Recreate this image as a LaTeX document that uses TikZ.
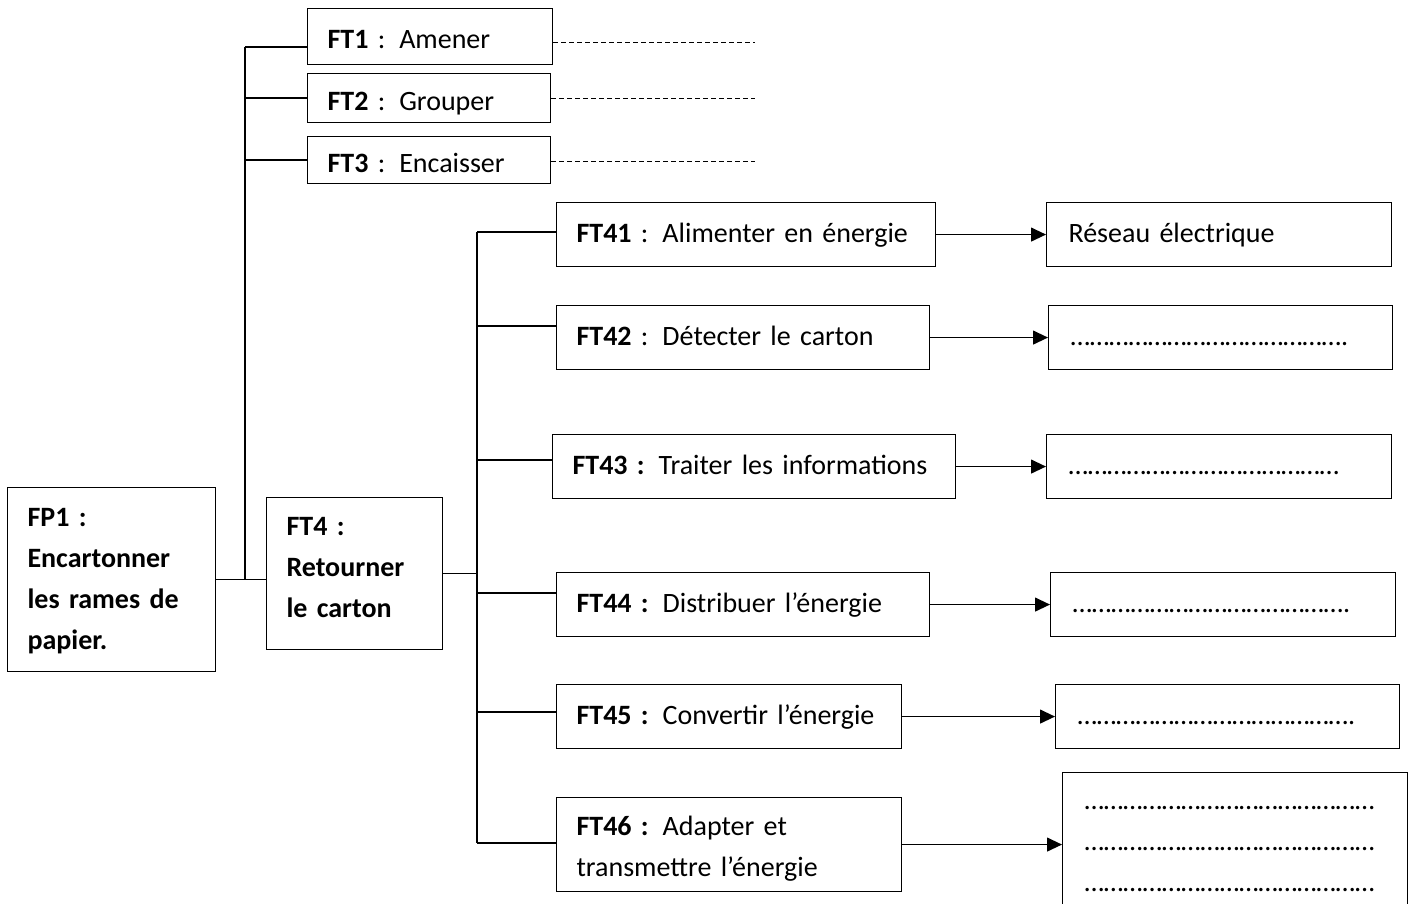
\documentclass[tikz,border=0pt]{standalone}
\usepackage{fontspec}
\setmainfont{Carlito}
\usetikzlibrary{arrows.meta,calc}
\begin{document}
\begin{tikzpicture}[x=1pt,y=-1pt,
  boxbase/.style={draw, line width=1.1pt, anchor=north west, inner xsep=20pt, inner ysep=0pt,
    align=left, font=\fontsize{28}{41}\selectfont},
  box/.style={boxbase, text height=21pt, text depth=5pt},
  topbox/.style={boxbase, text height=27pt, text depth=3pt},
  rbox/.style={box, inner xsep=22pt},
  spine/.style={line width=1.3pt},
  tick/.style={line width=1.8pt},
  dashline/.style={line width=0.9pt, dash pattern=on 5pt off 3pt},
  arr/.style={line width=1.2pt, -{Triangle[length=15pt,width=14pt]}}]
\useasboundingbox (0,0) rectangle (1414,903);

% top-level boxes
\node[topbox, minimum width=245pt, text width=205pt, minimum height=56pt] (FT1) at (307,8) {\textbf{FT1} : Amener};
\node[topbox, minimum width=243pt, text width=203pt, minimum height=49pt] (FT2) at (307,73) {\textbf{FT2} : Grouper};
\node[topbox, minimum width=243pt, text width=203pt, minimum height=47pt] (FT3) at (307,136) {\textbf{FT3} : Encaisser};
\node[boxbase, text height=21pt, text depth=127pt, minimum width=208pt, text width=168pt, minimum height=184pt] (FP1) at (7,487) {\textbf{FP1 :}\\\textbf{Encartonner}\\\textbf{les rames de}\\\textbf{papier.}};
\node[boxbase, text height=18pt, text depth=94pt, minimum width=176pt, text width=136pt, minimum height=152pt] (FT4) at (266,497) {\textbf{FT4 :}\\\textbf{Retourner}\\\textbf{le carton}};

% FT4 sub-functions
\node[box, minimum width=379pt, text width=339pt, minimum height=64pt] (FT41) at (556,202) {\textbf{FT41} : Alimenter en énergie};
\node[box, minimum width=373pt, text width=333pt, minimum height=64pt] (FT42) at (556,305) {\textbf{FT42} : Détecter le carton};
\node[box, minimum width=403pt, text width=363pt, minimum height=64pt] (FT43) at (552,434) {\textbf{FT43 :} Traiter les informations};
\node[box, minimum width=373pt, text width=333pt, minimum height=64pt] (FT44) at (556,572) {\textbf{FT44 :} Distribuer l’énergie};
\node[box, minimum width=345pt, text width=305pt, minimum height=64pt] (FT45) at (556,684) {\textbf{FT45 :} Convertir l’énergie};
\node[boxbase, text height=21pt, text depth=39pt, minimum width=345pt, text width=305pt, minimum height=94pt] (FT46) at (556,797) {\textbf{FT46 :} Adapter et\\transmettre l’énergie};

% right boxes
\node[rbox, minimum width=345pt, text width=301pt, minimum height=64pt] (R1) at (1046,202) {Réseau électrique};
\node[rbox, minimum width=344pt, text width=300pt, minimum height=64pt] (R2) at (1048,305) {…………………………………….};
\node[rbox, minimum width=345pt, text width=301pt, minimum height=64pt] (R3) at (1046,434) {……………………………………};
\node[rbox, minimum width=345pt, text width=301pt, minimum height=64pt] (R4) at (1050,572) {…………………………………….};
\node[rbox, minimum width=344pt, text width=300pt, minimum height=64pt] (R5) at (1055,684) {…………………………………….};
\node[boxbase, inner xsep=22pt, text height=10pt, text depth=75pt, minimum width=345pt, text width=301pt, minimum height=139pt] (R6) at (1062,772) {………………………………………\\………………………………………\\………………………………………};

% left tree
\coordinate (s1) at (245,47);
\draw[spine] (s1) -- (s1 |- FP1.east);
\draw[tick] (s1) -- (s1 -| FT1.west);
\draw[tick] (s1 |- FT2.west) -- (FT2.west);
\draw[tick] (s1 |- FT3.west) -- (FT3.west);
\draw[spine] (FP1.east) -- (FP1.east -| FT4.west);

% dashed continuations
\coordinate (d1) at (755,42);
\coordinate (d2) at (755,98);
\coordinate (d3) at (755,161);
\draw[dashline] (FT1.east |- d1) -- (d1);
\draw[dashline] (FT2.east |- d2) -- (d2);
\draw[dashline] (FT3.east |- d3) -- (d3);

% FT4 tree
\coordinate (s2) at (477,232);
\coordinate (s2b) at (477,843);
\draw[spine] (s2) -- (s2b);
\draw[spine] (FT4.east) -- (FT4.east -| s2);
\coordinate (t42) at (477,326);
\coordinate (t43) at (477,460);
\coordinate (t44) at (477,593);
\coordinate (t45) at (477,712);
\draw[tick] (s2) -- (s2 -| FT41.west);
\draw[tick] (t42) -- (t42 -| FT42.west);
\draw[tick] (t43) -- (t43 -| FT43.west);
\draw[tick] (t44) -- (t44 -| FT44.west);
\draw[tick] (t45) -- (t45 -| FT45.west);
\draw[tick] (s2b) -- (s2b -| FT46.west);

% arrows
\draw[arr] (FT41.east) -- (FT41.east -| R1.west);
\draw[arr] (FT42.east) -- (FT42.east -| R2.west);
\draw[arr] (FT43.east) -- (FT43.east -| R3.west);
\draw[arr] (FT44.east) -- (FT44.east -| R4.west);
\draw[arr] (FT45.east) -- (FT45.east -| R5.west);
\draw[arr] (FT46.east) -- (FT46.east -| R6.west);
\end{tikzpicture}
\end{document}
